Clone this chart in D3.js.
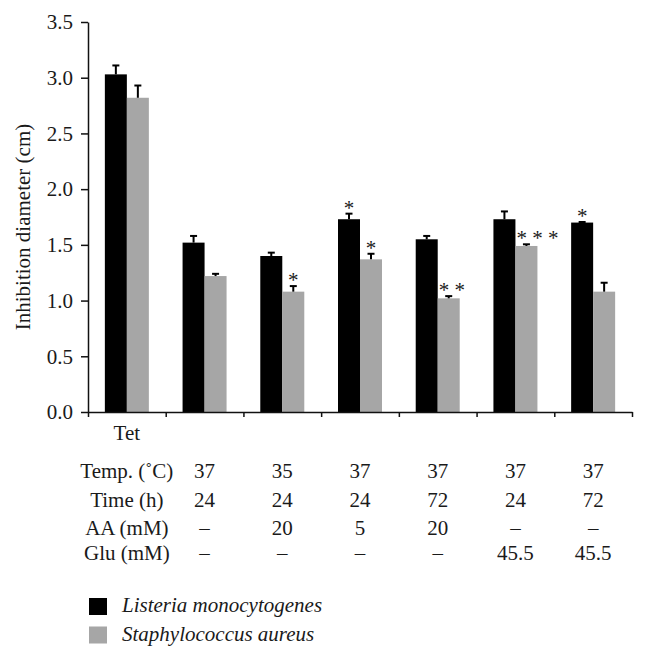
<!DOCTYPE html>
<html>
<head>
<meta charset="utf-8">
<script src="https://cdn.jsdelivr.net/npm/d3@7/dist/d3.min.js"></script>
<style>
  html, body { margin: 0; padding: 0; background: #fff; }
  svg { display: block; }
</style>
</head>
<body>
<svg id="chart" width="646" height="661" font-family="Liberation Serif"></svg>
<script>
// ---- data ----
const categories = ["Tet", "c2", "c3", "c4", "c5", "c6", "c7"];
const categoryLabels = ["Tet", "", "", "", "", "", ""];
const series = ["Listeria monocytogenes", "Staphylococcus aureus"];
const listeriaValues = [3.03, 1.52, 1.40, 1.73, 1.55, 1.73, 1.70];
const listeriaErrors = [0.08, 0.06, 0.03, 0.05, 0.03, 0.07, 0.005];
const aureusValues   = [2.82, 1.22, 1.08, 1.37, 1.02, 1.49, 1.08];
const aureusErrors   = [0.11, 0.02, 0.05, 0.05, 0.02, 0.015, 0.08];
const listeriaMarks  = ["", "", "", "*", "", "", "*"];
const aureusMarks    = ["", "", "*", "*", "* *", "* * *", ""];
const yTicks = [0, 0.5, 1.0, 1.5, 2.0, 2.5, 3.0, 3.5];
const rowLabels = ["Temp. (\u02DAC)", "Time (h)", "AA (mM)", "Glu (mM)"];
const tempRow = ["", "37", "35", "37", "37", "37", "37"];
const timeRow = ["", "24", "24", "24", "72", "24", "72"];
const aaRow   = ["", "\u2013", "20", "5", "20", "\u2013", "\u2013"];
const gluRow  = ["", "\u2013", "\u2013", "\u2013", "\u2013", "45.5", "45.5"];
const colors = ["#000000", "#a6a6a6"];

// ---- layout ----
const FONT = "Liberation Serif";
const TXT = "#1a1a1a";
const svg = d3.select("#chart");
const mLeft = 88, mRight = 632, mTop = 22, mBottom = 412;
const y = d3.scaleLinear().domain([0, 3.5]).range([mBottom, mTop]);
const x = d3.scaleBand().domain(categories).range([mLeft, mRight]).padding(0);
const groupW = 44;
const x1 = d3.scaleBand().domain(series).range([0, groupW]).padding(0);
const color = d3.scaleOrdinal().domain(series).range(colors);

const seriesData = [
  { name: series[0], values: listeriaValues, errors: listeriaErrors, marks: listeriaMarks },
  { name: series[1], values: aureusValues, errors: aureusErrors, marks: aureusMarks }
];
const bars = [];
seriesData.forEach(s => {
  categories.forEach((c, i) => {
    bars.push({ cat: c, series: s.name, value: s.values[i], err: s.errors[i], mark: s.marks[i] });
  });
});
const bx = d => x(d.cat) + (x.bandwidth() - groupW) / 2 + x1(d.series);

// bars
svg.append("g").selectAll("rect").data(bars).join("rect")
  .attr("x", bx)
  .attr("y", d => y(d.value))
  .attr("width", x1.bandwidth())
  .attr("height", d => y(0) - y(d.value))
  .attr("fill", d => color(d.series));

// error bars
const eb = svg.append("g").attr("stroke", "#000").attr("stroke-width", 2);
const capW = 7;
bars.forEach(d => {
  const cx = bx(d) + x1.bandwidth() / 2;
  eb.append("line").attr("x1", cx).attr("x2", cx)
    .attr("y1", y(d.value)).attr("y2", y(d.value + d.err));
  eb.append("line").attr("x1", cx - capW / 2).attr("x2", cx + capW / 2)
    .attr("y1", y(d.value + d.err)).attr("y2", y(d.value + d.err));
});

// significance marks
svg.append("g").selectAll("text").data(bars.filter(d => d.mark)).join("text")
  .attr("x", d => d.mark.length > 1 ? bx(d) + 1 : bx(d) + x1.bandwidth() / 2)
  .attr("y", d => y(d.value + d.err) + 1)
  .attr("text-anchor", d => d.mark.length > 1 ? "start" : "middle")
  .attr("font-size", 21)
  .attr("font-family", FONT)
  .attr("fill", TXT)
  .text(d => d.mark);

// y axis
const yAxis = svg.append("g").attr("transform", `translate(${mLeft},0)`)
  .call(d3.axisLeft(y).tickValues(yTicks).tickFormat(d3.format(".1f")).tickSize(7).tickSizeOuter(0).tickPadding(8));
yAxis.attr("font-family", FONT).attr("font-size", 21);
yAxis.selectAll("text").attr("fill", TXT);
yAxis.selectAll("path, line").attr("stroke", "#111").attr("stroke-width", 1.5);

// x axis with boundary ticks
const xb = d3.scaleLinear().domain([0, categories.length]).range([mLeft, mRight]);
const xAxis = svg.append("g").attr("transform", `translate(0,${mBottom})`)
  .call(d3.axisBottom(xb).tickValues(d3.range(categories.length + 1)).tickFormat("").tickSize(5).tickSizeOuter(0));
xAxis.selectAll("path, line").attr("stroke", "#111").attr("stroke-width", 1.5);

// category labels
svg.append("g").selectAll("text").data(categories).join("text")
  .attr("x", c => x(c) + x.bandwidth() / 2)
  .attr("y", 440)
  .attr("text-anchor", "middle")
  .attr("font-size", 21)
  .attr("font-family", FONT)
  .attr("fill", TXT)
  .text((c, i) => categoryLabels[i]);

// y label
svg.append("text")
  .attr("transform", `translate(30,${(mTop + mBottom) / 2 + 10}) rotate(-90)`)
  .attr("text-anchor", "middle")
  .attr("font-size", 21)
  .attr("font-family", FONT)
  .attr("fill", TXT)
  .text("Inhibition diameter (cm)");

// condition table
const rows = [tempRow, timeRow, aaRow, gluRow];
const rowY = [478, 507, 535, 560];
rows.forEach((r, ri) => {
  const g = svg.append("g").attr("font-family", FONT).attr("font-size", 21).attr("fill", TXT);
  g.append("text")
    .attr("x", x(categories[0]) + x.bandwidth() / 2)
    .attr("y", rowY[ri])
    .attr("text-anchor", "middle")
    .text(rowLabels[ri]);
  g.selectAll("text.v").data(categories.slice(1)).join("text")
    .attr("class", "v")
    .attr("x", c => x(c) + x.bandwidth() / 2)
    .attr("y", rowY[ri])
    .attr("text-anchor", "middle")
    .text((c, i) => r[i + 1]);
});

// legend
const lg = svg.append("g").attr("transform", "translate(89,598)").attr("font-family", FONT).attr("fill", TXT);
series.forEach((s, i) => {
  const row = lg.append("g").attr("transform", `translate(0,${i * 28.5})`);
  row.append("rect").attr("width", 18).attr("height", 17).attr("fill", color(s));
  row.append("text").attr("x", 33).attr("y", 14).attr("font-size", 21)
    .attr("font-style", "italic").text(s);
});
</script>
</body>
</html>
